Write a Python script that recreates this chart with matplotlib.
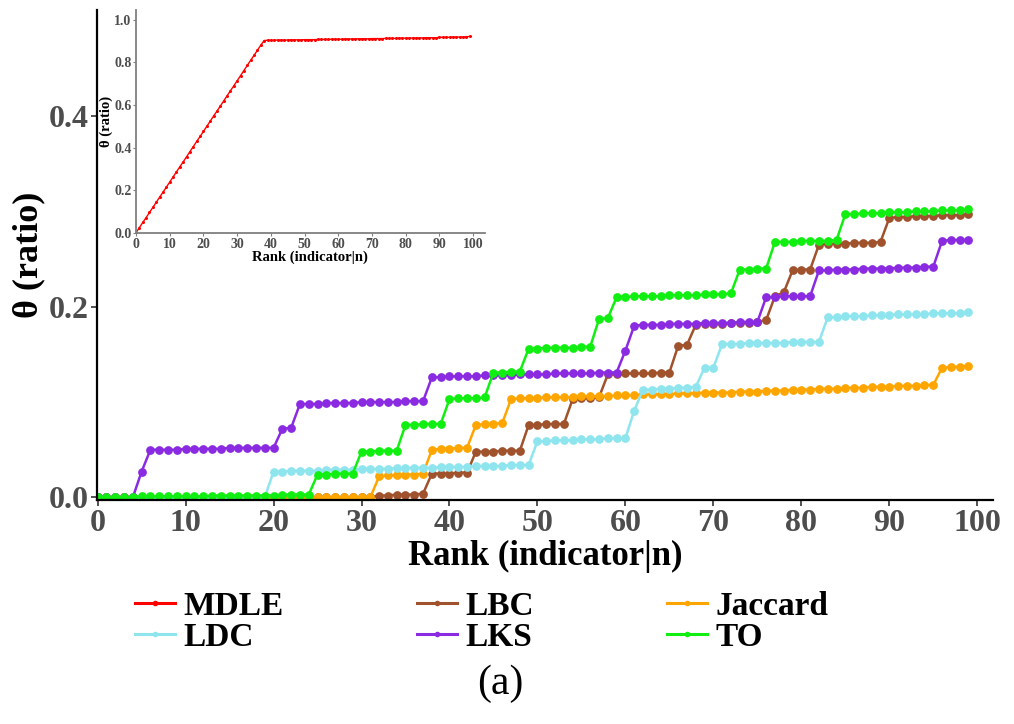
import numpy as np
import matplotlib.pyplot as plt
from matplotlib.lines import Line2D

plt.rcParams['font.family'] = ['Liberation Serif', 'DejaVu Serif']
plt.rcParams['font.weight'] = 'bold'

rank = np.arange(0, 100)

lbc = ([0.0] * 32
       + [0.002, 0.002, 0.003, 0.003, 0.003, 0.004]
       + [0.025, 0.025, 0.025, 0.026, 0.026]
       + [0.048, 0.048, 0.048, 0.049, 0.049, 0.049]
       + [0.076, 0.076, 0.077, 0.077, 0.077]
       + [0.103, 0.104, 0.104, 0.105]
       + [0.129, 0.129, 0.130, 0.130, 0.130, 0.130, 0.131, 0.131]
       + [0.159, 0.160]
       + [0.181, 0.182, 0.182, 0.182, 0.183, 0.183, 0.183, 0.184]
       + [0.186, 0.211, 0.215]
       + [0.238, 0.239, 0.239]
       + [0.265, 0.266, 0.266, 0.266, 0.267, 0.267, 0.267, 0.268]
       + [0.293, 0.294, 0.294, 0.295, 0.295, 0.295, 0.296, 0.296, 0.296, 0.297])

jaccard = ([0.0] * 32
           + [0.022, 0.023, 0.023, 0.024, 0.024, 0.025]
           + [0.050, 0.051, 0.051, 0.052, 0.052]
           + [0.076, 0.077, 0.077, 0.078]
           + [0.103, 0.104, 0.104, 0.104, 0.105, 0.105, 0.105, 0.105, 0.106, 0.106,
              0.106, 0.106, 0.107, 0.107, 0.107, 0.108, 0.108, 0.108, 0.108, 0.109,
              0.109, 0.109, 0.110, 0.110, 0.110, 0.110, 0.111, 0.111, 0.111, 0.112,
              0.112, 0.112, 0.113, 0.113, 0.113, 0.114, 0.114, 0.114, 0.115, 0.115,
              0.115, 0.116, 0.116, 0.116, 0.117, 0.117, 0.117, 0.118, 0.118]
           + [0.136, 0.137, 0.137, 0.138])

ldc = ([0.0] * 20
       + [0.027, 0.027, 0.028, 0.028, 0.028, 0.028, 0.029, 0.029, 0.029, 0.029,
          0.030, 0.030, 0.030, 0.030, 0.031, 0.031, 0.031, 0.031, 0.031, 0.032,
          0.032, 0.032, 0.032, 0.033, 0.033, 0.033, 0.033, 0.034, 0.034, 0.034]
       + [0.059, 0.059, 0.060, 0.060, 0.060, 0.061, 0.061, 0.061, 0.062, 0.062, 0.062]
       + [0.091]
       + [0.113, 0.113, 0.114, 0.114, 0.115, 0.115, 0.116]
       + [0.136, 0.136]
       + [0.161, 0.161, 0.161, 0.162, 0.162, 0.162, 0.162, 0.162, 0.163, 0.163, 0.163, 0.163]
       + [0.189, 0.189, 0.190, 0.190, 0.190, 0.191, 0.191, 0.191, 0.192, 0.192,
          0.192, 0.192, 0.193, 0.193, 0.193, 0.193, 0.194])

lks = ([0.0] * 5
       + [0.027]
       + [0.050, 0.050, 0.050, 0.050, 0.051, 0.051, 0.051, 0.051, 0.051, 0.052,
          0.052, 0.052, 0.052, 0.052, 0.052]
       + [0.072, 0.073]
       + [0.098, 0.098, 0.098, 0.099, 0.099, 0.099, 0.099, 0.100, 0.100, 0.100,
          0.100, 0.100, 0.101, 0.101, 0.101]
       + [0.126, 0.126, 0.127, 0.127, 0.127, 0.127, 0.128, 0.128, 0.128, 0.128, 0.129,
          0.129, 0.129, 0.129, 0.130, 0.130, 0.130, 0.130, 0.130, 0.131, 0.131, 0.131]
       + [0.154]
       + [0.180, 0.181, 0.181, 0.181, 0.182, 0.182, 0.182, 0.182, 0.183, 0.183,
          0.183, 0.183, 0.184, 0.184, 0.184]
       + [0.210, 0.210, 0.211, 0.211, 0.211, 0.211]
       + [0.238, 0.238, 0.239, 0.239, 0.239, 0.240, 0.240, 0.240, 0.240, 0.241,
          0.241, 0.241, 0.242, 0.242]
       + [0.269, 0.270, 0.270, 0.270])

to = ([0.000, 0.000, 0.000, 0.000, 0.000, 0.001, 0.001, 0.001, 0.001, 0.001,
       0.001, 0.001, 0.001, 0.002, 0.002, 0.002, 0.002, 0.002, 0.002, 0.002,
       0.002, 0.003, 0.003, 0.003, 0.003]
      + [0.024, 0.024, 0.025, 0.025, 0.025]
      + [0.048, 0.048, 0.049, 0.049, 0.049]
      + [0.076, 0.076, 0.077, 0.077, 0.077]
      + [0.103, 0.104, 0.104, 0.104, 0.105]
      + [0.131, 0.131, 0.132, 0.132]
      + [0.156, 0.156, 0.157, 0.157, 0.157, 0.157, 0.158, 0.158]
      + [0.187, 0.188]
      + [0.210, 0.210, 0.211, 0.211, 0.211, 0.211, 0.212, 0.212, 0.212, 0.212,
         0.213, 0.213, 0.213, 0.214]
      + [0.239, 0.239, 0.240, 0.240]
      + [0.268, 0.268, 0.268, 0.269, 0.269, 0.269, 0.269, 0.270]
      + [0.297, 0.297, 0.298, 0.298, 0.298, 0.299, 0.299, 0.299, 0.300, 0.300,
         0.300, 0.301, 0.301, 0.301, 0.302])

mdle = ([0.000, 0.024, 0.048, 0.071, 0.095, 0.119, 0.143, 0.167, 0.190, 0.214,
         0.238, 0.262, 0.286, 0.310, 0.333, 0.357, 0.381, 0.405, 0.429, 0.452,
         0.476, 0.500, 0.524, 0.548, 0.571, 0.595, 0.619, 0.643, 0.667, 0.690,
         0.714, 0.738, 0.762, 0.786, 0.810, 0.833, 0.857, 0.881, 0.903]
        + [0.904, 0.904, 0.904] + [0.905] * 4 + [0.906] * 4 + [0.907] * 4
        + [0.908] * 4 + [0.909] * 4 + [0.910] * 4 + [0.911] * 4 + [0.912] * 4
        + [0.913] * 4 + [0.914] * 4 + [0.915] * 4 + [0.916] * 4 + [0.918] * 4
        + [0.919] * 4 + [0.921, 0.922])

names = ['MDLE', 'LBC', 'Jaccard', 'LDC', 'LKS', 'TO']
colors = {'MDLE': '#FF0000', 'LBC': '#A0522D', 'Jaccard': '#FFA500',
          'LDC': '#8EE5EE', 'LKS': '#8A2BE2', 'TO': '#11EE11'}
main_series = {'LBC': lbc, 'Jaccard': jaccard, 'LDC': ldc, 'LKS': lks, 'TO': to}

fig = plt.figure(figsize=(10.14, 7.24), dpi=100)
ax = fig.add_axes([0.0954, 0.309, 0.884, 0.677])

for name, vals in main_series.items():
    ax.plot(rank, vals, color=colors[name], lw=1.8, marker='o', ms=6.3,
            markeredgewidth=0)

ax.set_xlim(-0.1, 101.8)
ax.set_ylim(-0.003, 0.511)
ax.set_xticks(range(0, 101, 10))
ax.set_yticks([0.0, 0.2, 0.4])
ax.set_yticklabels(['0.0', '0.2', '0.4'])
for s in ['top', 'right']:
    ax.spines[s].set_visible(False)
for s in ['left', 'bottom']:
    ax.spines[s].set_linewidth(1.6)
    ax.spines[s].set_color('black')
ax.tick_params(direction='out', length=4, width=1.2, color='#333333',
               labelcolor='#4D4D4D', labelsize=23, pad=2)
ax.set_xlabel('Rank (indicator|n)', fontsize=25, fontweight='bold', labelpad=2)
ax.set_ylabel('θ (ratio)', fontsize=26, fontweight='bold', labelpad=2)

# inset with MDLE
ins = fig.add_axes([0.1338, 0.6777, 0.3445, 0.3084])
ins.plot(rank, mdle, color=colors['MDLE'], lw=1.0, marker='o', ms=2.2,
         markeredgewidth=0)
ins.set_xlim(-0.1, 103.5)
ins.set_ylim(-0.003, 1.046)
ins.set_xticks(range(0, 101, 10))
ins.set_yticks([0.0, 0.2, 0.4, 0.6, 0.8, 1.0])
ins.set_yticklabels(['0.0', '0.2', '0.4', '0.6', '0.8', '1.0'])
for s in ['top', 'right']:
    ins.spines[s].set_visible(False)
for s in ['left', 'bottom']:
    ins.spines[s].set_linewidth(1.3)
    ins.spines[s].set_color('#7F7F7F')
ins.tick_params(direction='out', length=2, width=0.8, color='#7F7F7F',
                labelcolor='#4D4D4D', labelsize=10, pad=1)
ins.set_xlabel('Rank (indicator|n)', fontsize=10.5, fontweight='bold', labelpad=0)
ins.set_ylabel('θ (ratio)', fontsize=10.5, fontweight='bold', labelpad=1)

# legend below
handles = [Line2D([], [], color=colors[n], lw=2.2, marker='o', ms=4,
                  markeredgewidth=0) for n in names]
order = [0, 3, 1, 4, 2, 5]
fig.legend([handles[i] for i in order], [names[i] for i in order],
           ncol=3, loc='center', bbox_to_anchor=(0.475, 0.141), frameon=False,
           prop={'family': 'Liberation Serif', 'weight': 'bold', 'size': 24},
           handlelength=1.2, handletextpad=0.25, columnspacing=4.0,
           labelspacing=0.0, borderpad=0)

fig.text(0.493, 1 - 684 / 724, '(a)', ha='center', va='center', fontsize=30,
         fontweight='normal')

fig.savefig('out.png', dpi=100)
